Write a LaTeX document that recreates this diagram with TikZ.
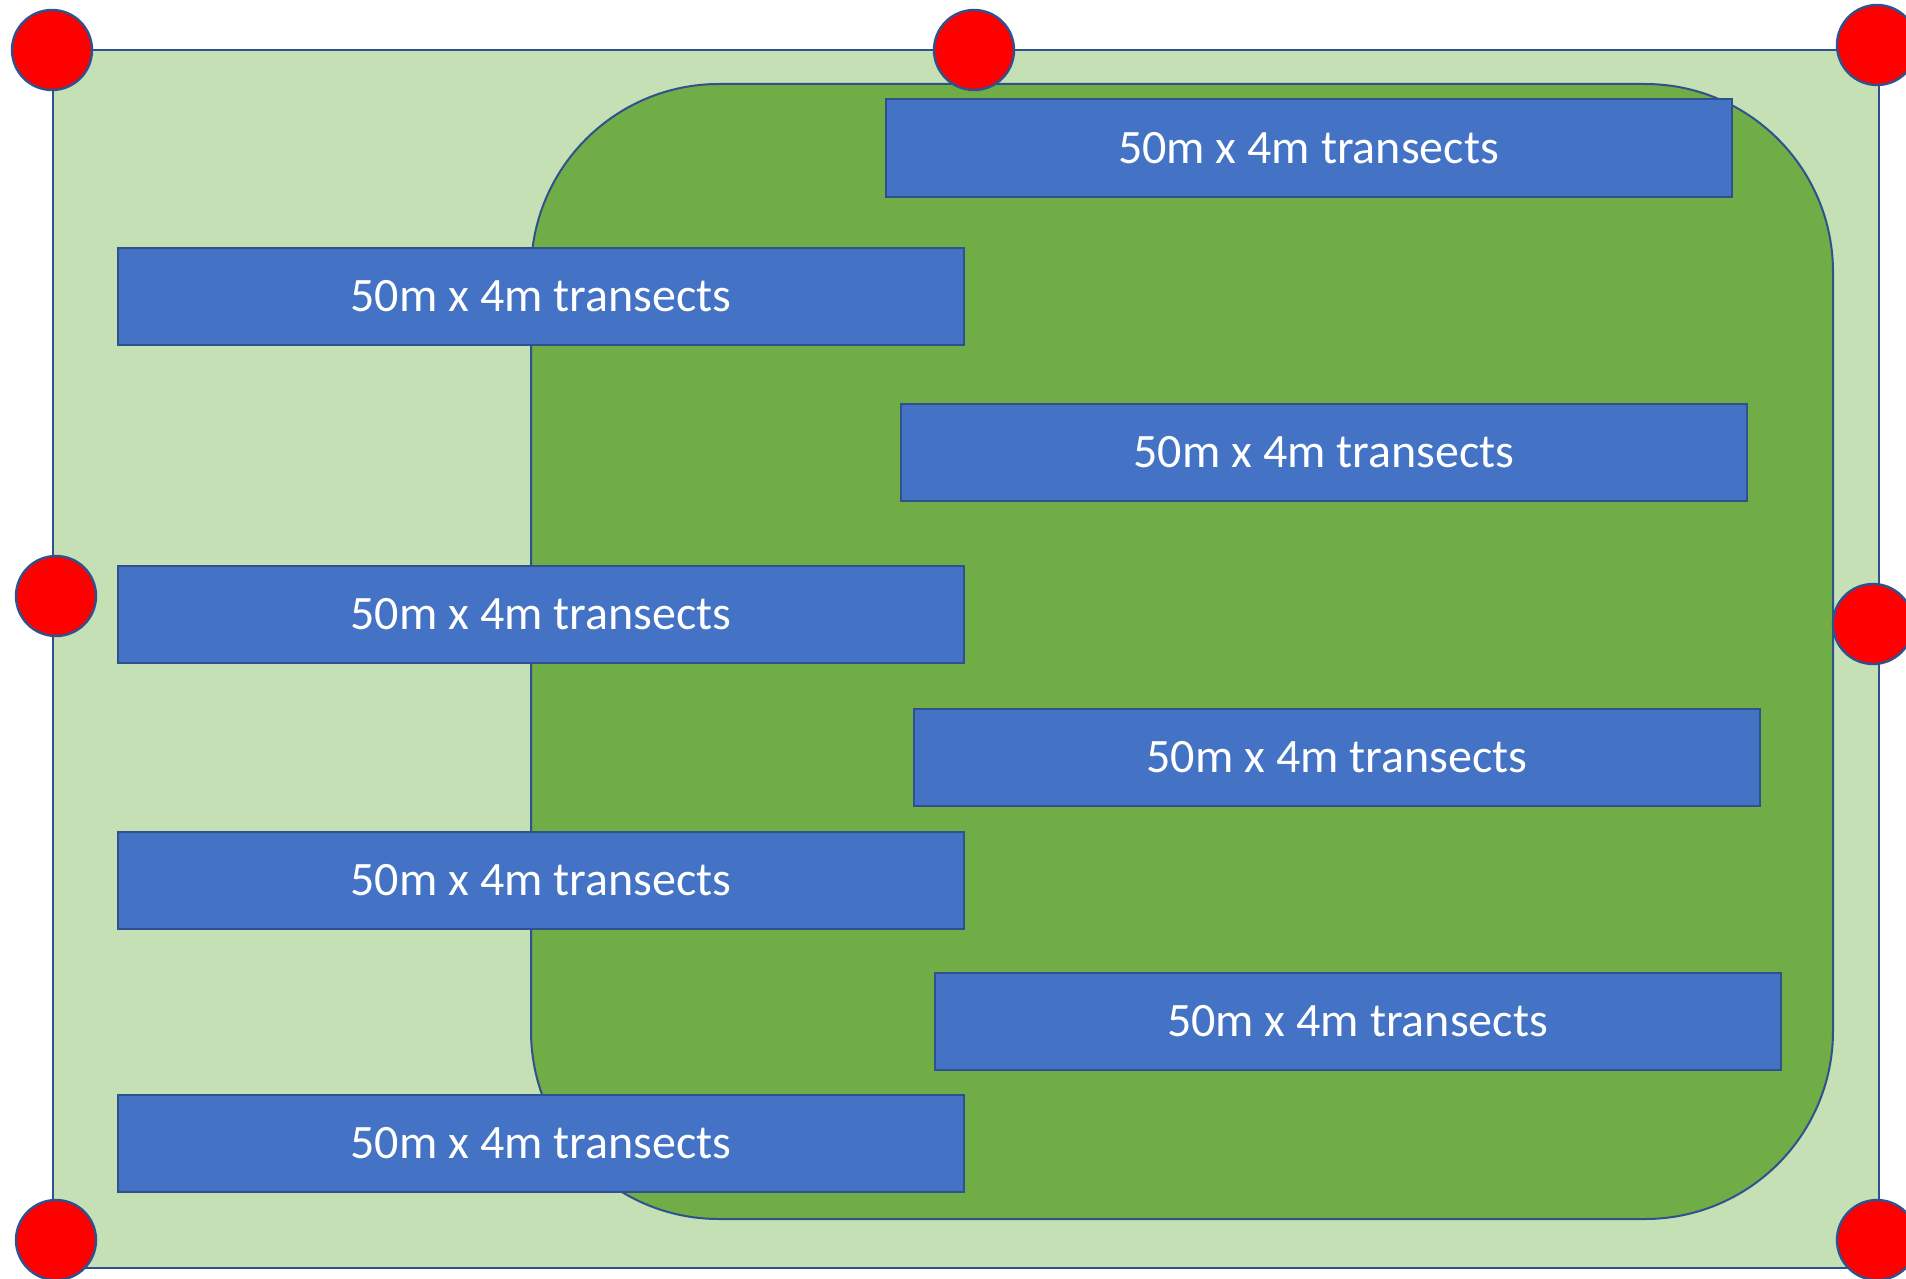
\documentclass[tikz,border=0pt]{standalone}
\usepackage{fontspec}
\usepackage{xcolor}
\usepackage{tikz}
\newfontfamily\transectfont{Carlito}

\definecolor{plotgreen}{HTML}{C5E0B4}
\definecolor{coregreen}{HTML}{70AD47}
\definecolor{transectblue}{HTML}{4472C4}
\definecolor{edgeblue}{HTML}{2F528F}

\begin{document}
\begin{tikzpicture}[
    x=0.5pt, y=-0.5pt,
    transect/.style={rectangle, draw=edgeblue, line width=1pt, fill=transectblue,
        minimum width=423pt, minimum height=48.5pt, inner sep=0pt,
        text=white, font=\transectfont\fontsize{24}{28}\selectfont},
    marker/.style={circle, draw=edgeblue, line width=1.2pt, fill=red,
        minimum size=40pt, inner sep=0pt}
]
\useasboundingbox (0,0) rectangle (1906,1279);

% plot and core area
\filldraw[draw=edgeblue, line width=1pt, fill=plotgreen] (53,50) rectangle (1879,1268);
\filldraw[draw=edgeblue, line width=1pt, fill=coregreen, rounded corners=94pt] (531,84) rectangle (1833,1219);

% transects
\node [transect] (t1) at (1308.5,148) {50m x 4m transects};
\node [transect] (t2) at (541,296.5) {50m x 4m transects};
\node [transect] (t3) at (1324,452.5) {50m x 4m transects};
\node [transect] (t4) at (541,614) {50m x 4m transects};
\node [transect] (t5) at (1337,757.5) {50m x 4m transects};
\node [transect] (t6) at (541,880) {50m x 4m transects};
\node [transect] (t7) at (1357.5,1021.5) {50m x 4m transects};
\node [transect] (t8) at (541,1143) {50m x 4m transects};

% corner and edge markers
\node [marker] (topleft) at (52,50) {};
\node [marker] (topmid) at (974,50) {};
\node [marker] (topright) at (1877,45) {};
\node [marker] (midleft) at (56,596) {};
\node [marker] (midright) at (1873,624) {};
\node [marker] (botleft) at (56,1240) {};
\node [marker] (botright) at (1877,1240) {};
\end{tikzpicture}
\end{document}
